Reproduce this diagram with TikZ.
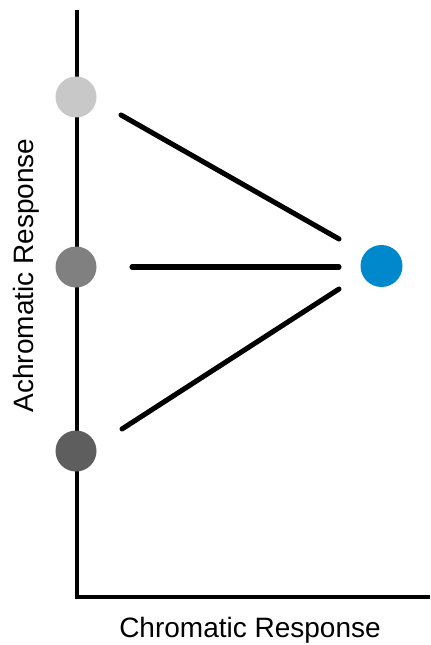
\documentclass[tikz,border=0pt]{standalone}
\usepackage{fontspec}
\setmainfont{Liberation Sans}
\definecolor{lightg}{HTML}{C8C8C8}
\definecolor{midg}{HTML}{808080}
\definecolor{darkg}{HTML}{5E5E5E}
\definecolor{blueD}{HTML}{0088CC}
\begin{document}
\begin{tikzpicture}[x=0.75pt,y=-0.75pt,
  dot/.style={circle,inner sep=0pt,minimum size=30.75pt,draw=none},
  axisline/.style={line width=3pt},
  conn/.style={line width=3.8pt,line cap=round},
  lbl/.style={font=\fontsize{21}{24}\selectfont,inner sep=0pt}]
\useasboundingbox (0,0) rectangle (430,645);
% axes
\coordinate (top) at (77,10);
\coordinate (corner) at (77,597);
\coordinate (right) at (430,597);
\draw[axisline] (top) -- (corner) -- (right);
% dots
\node[dot,fill=lightg] (light) at (76,97) {};
\node[dot,fill=midg] (mid) at (76,267) {};
\node[dot,fill=darkg] (dark) at (76,451) {};
\node[dot,fill=blueD,minimum size=31.5pt] (blue) at (381.5,266) {};
% connector ends
\coordinate (a1) at (121,115);
\coordinate (b1) at (339,239);
\coordinate (a2) at (132,267);
\coordinate (b2) at (339,267);
\coordinate (a3) at (122,429);
\coordinate (b3) at (339,289);
\draw[conn] (a1) -- (b1);
\draw[conn] (a2) -- (b2);
\draw[conn] (a3) -- (b3);
% labels
\node[lbl,anchor=base] (xl) at (250,637) {Chromatic Response};
\node[lbl,anchor=base,rotate=90] (yl) at (33,275.5) {Achromatic Response};
\end{tikzpicture}
\end{document}
